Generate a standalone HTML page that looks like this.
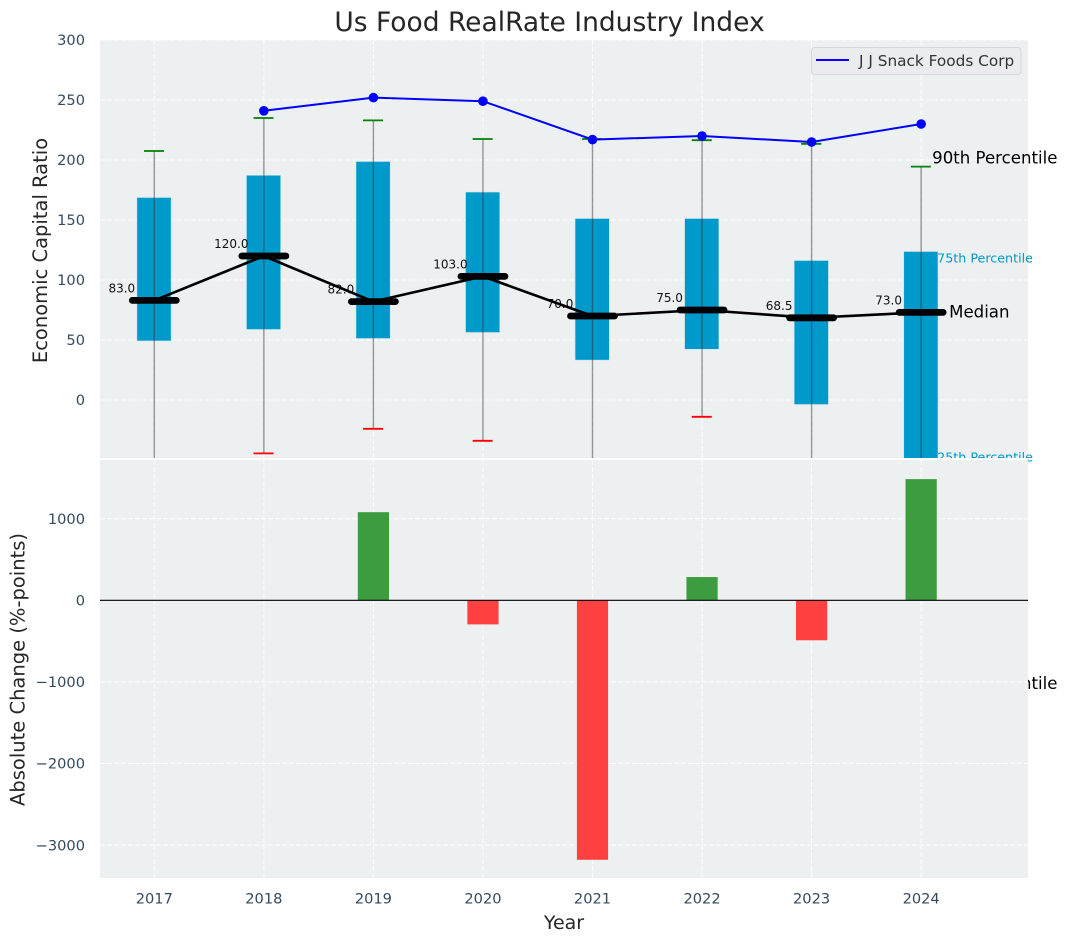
<!DOCTYPE html>
<html>
<head>
<meta charset="utf-8">
<title>Us Food RealRate Industry Index</title>
<style>
html,body{margin:0;padding:0;background:#fff;}
svg{display:block;font-family:"DejaVu Sans","Liberation Sans",sans-serif;}
</style>
</head>
<body>
<svg id="chart" xmlns="http://www.w3.org/2000/svg" width="1067" height="942" viewBox="0 0 1067 942">
<defs>
<clipPath id="clip-top"><rect x="100" y="40" width="928" height="418"/></clipPath>
<clipPath id="clip-bottom"><rect x="100" y="460" width="928" height="418"/></clipPath>
</defs>
</svg>
<script>
const years = [2017, 2018, 2019, 2020, 2021, 2022, 2023, 2024];
const whiskerHigh = [207.5, 235, 233, 217.5, 217.5, 216.5, 213.5, 194.5];
const whiskerLow = [-80, -44.5, -24, -34, -90, -14, -75, -240];
const q3Values = [168.5, 187, 198.5, 173, 151, 151, 116, 123.5];
const q1Values = [49.5, 59, 51.5, 56.5, 33.5, 42.5, -3.5, -55];
const medians = [83, 120, 82, 103, 70, 75, 68.5, 73];
const companyYears = [2018, 2019, 2020, 2021, 2022, 2023, 2024];
const companyValues = [241, 252, 249, 217, 220, 215, 230];
const changeValues = [0, 0, 1080, -295, -3180, 285, -490, 1485];
const topTicks = [0, 50, 100, 150, 200, 250, 300];
const bottomTicks = [-3000, -2000, -1000, 0, 1000];

const NS = 'http://www.w3.org/2000/svg';
const svg = document.getElementById('chart');
const xPos = v => 154.3 + (v - 2017) * 109.55;
const yTop = v => 400 - v * 1.2;
const yBottom = v => 600.3 - v * 0.0816;
const TXT = '#262626';
const TICK = '#34495e';
const BLUE = '#0099cc';

function el(tag, attrs, parent) {
  const e = document.createElementNS(NS, tag);
  for (const k in attrs) e.setAttribute(k, attrs[k]);
  (parent || svg).appendChild(e);
  return e;
}
function txt(s, attrs, parent) {
  const e = el('text', attrs, parent);
  e.textContent = s;
  return e;
}
function fmtTick(v) {
  return v < 0 ? '\u2212' + Math.abs(v) : String(v);
}
function grid(parent, ticks, yFn, y0, y1) {
  years.forEach(yr => {
    const l = el('line', {x1: xPos(yr), x2: xPos(yr), y1: y0, y2: y1, stroke: '#fff', 'stroke-width': 1, 'stroke-dasharray': '5 2', opacity: 0.9}, parent);
    
    
  });
  ticks.forEach(t => {
    const l = el('line', {x1: 100, x2: 1028, y1: yFn(t), y2: yFn(t), stroke: '#fff', 'stroke-width': 1, 'stroke-dasharray': '5 2', opacity: 0.9}, parent);
    
    
  });
}

/* title */
const title = txt('Us Food RealRate Industry Index', {x: 549.5, y: 31, 'text-anchor': 'middle', 'font-size': 26.5, fill: TXT});



/* top panel */
const topBg = el('rect', {x: 100, y: 40, width: 928, height: 418, fill: '#ecf0f1'});



const topGrid = el('g', {'clip-path': 'url(#clip-top)'});


grid(topGrid, topTicks, yTop, 40, 458);

/* annotations drawn before the lower panel so it covers them, as in the source */
const last = years.length - 1;
const lastX = xPos(years[last]);
const p90 = txt('90th Percentile', {x: lastX + 11, y: yTop(whiskerHigh[last]) - 3, 'font-size': 16.6, fill: '#000'});


const p75 = txt('75th Percentile', {x: lastX + 16, y: yTop(q3Values[last]) + 10.5, 'font-size': 12.7, fill: BLUE});


const pMed = txt('Median', {x: lastX + 28, y: yTop(medians[last]) + 5, 'font-size': 16.6, fill: '#000'});


const p25 = txt('25th Percentile', {x: lastX + 16, y: yTop(q1Values[last]) - 4.5, 'font-size': 12.7, fill: BLUE});


const p10 = txt('10th Percentile', {x: lastX + 11, y: yTop(whiskerLow[last]) + 1, 'font-size': 16.6, fill: '#000'});



const marks = el('g', {'clip-path': 'url(#clip-top)'});



years.forEach((yr, i) => {
  const x = xPos(yr);
  const box = el('rect', {x: x - 17.1, y: yTop(q3Values[i]), width: 33.6, height: yTop(q1Values[i]) - yTop(q3Values[i]), fill: BLUE, stroke: BLUE, 'stroke-opacity': 0.2, 'stroke-width': 1}, marks);
  
  
});
years.forEach((yr, i) => {
  const x = xPos(yr);
  const w = el('line', {x1: x, x2: x, y1: yTop(whiskerHigh[i]), y2: yTop(whiskerLow[i]), stroke: '#333', 'stroke-opacity': 0.5, 'stroke-width': 1.4}, marks);
  
  
  const hi = el('line', {x1: x - 10.3, x2: x + 9.7, y1: yTop(whiskerHigh[i]), y2: yTop(whiskerHigh[i]), stroke: 'green', 'stroke-width': 1.8}, marks);
  
  
  const lo = el('line', {x1: x - 10.3, x2: x + 9.7, y1: yTop(whiskerLow[i]), y2: yTop(whiskerLow[i]), stroke: 'red', 'stroke-width': 1.8}, marks);
  
  
  const lab = txt(medians[i].toFixed(1), {x: x - 32.5, y: yTop(medians[i]) - 8, 'text-anchor': 'middle', 'font-size': 12, fill: '#111'}, marks);
  
  
});

const medLine = el('polyline', {points: years.map((yr, i) => xPos(yr) + ',' + yTop(medians[i])).join(' '), fill: 'none', stroke: '#000', 'stroke-width': 2.6}, marks);


years.forEach((yr, i) => {
  const x = xPos(yr);
  const m = el('line', {x1: x - 22, x2: x + 22, y1: yTop(medians[i]), y2: yTop(medians[i]), stroke: '#000', 'stroke-width': 6.8, 'stroke-linecap': 'round'}, marks);
  
  
});

const compLine = el('polyline', {points: companyYears.map((yr, i) => xPos(yr) + ',' + yTop(companyValues[i])).join(' '), fill: 'none', stroke: '#0000ff', 'stroke-width': 2}, marks);


companyYears.forEach((yr, i) => {
  const c = el('circle', {cx: xPos(yr), cy: yTop(companyValues[i]), r: 4.8, fill: '#0000ff'}, marks);
  
  
});

/* top y ticks */
topTicks.forEach(t => {
  const l = txt(fmtTick(t), {x: 85, y: yTop(t) + 5.2, 'text-anchor': 'end', 'font-size': 14.6, fill: TICK});
  
  
});
const yTitleTop = txt('Economic Capital Ratio', {transform: 'translate(47,250.5) rotate(-90)', 'text-anchor': 'middle', 'font-size': 19.5, fill: TXT});



/* legend */
const legend = el('g', {});


const legendBox = el('rect', {x: 811.5, y: 47.5, width: 209.5, height: 27, rx: 3, fill: '#eaecf0', stroke: '#d5d7da', 'stroke-width': 1}, legend);


const legendLine = el('line', {x1: 816, x2: 849, y1: 60, y2: 60, stroke: '#0000ff', 'stroke-width': 2}, legend);


const legendText = txt('J J Snack Foods Corp', {x: 859, y: 66, 'font-size': 15.3, fill: '#333'}, legend);



/* bottom panel */
const gapBg = el('rect', {x: 100, y: 458, width: 928, height: 2, fill: '#fff', opacity: 0.9});


const botBg = el('rect', {x: 100, y: 460, width: 928, height: 418, fill: '#ecf0f1'});



const botGrid = el('g', {'clip-path': 'url(#clip-bottom)'});


grid(botGrid, bottomTicks, yBottom, 460, 878);

const bars = el('g', {'clip-path': 'url(#clip-bottom)'});


years.forEach((yr, i) => {
  const v = changeValues[i];
  if (v === 0) return;
  const y0 = yBottom(0), y1 = yBottom(v);
  const b = el('rect', {x: xPos(yr) - 15.6, y: Math.min(y0, y1), width: 31.2, height: Math.abs(y1 - y0), fill: v > 0 ? '#3c9c3f' : '#ff4040'}, bars);
  
  
});
const zero = el('line', {x1: 100, x2: 1028, y1: yBottom(0), y2: yBottom(0), stroke: '#000', 'stroke-width': 1.1});



bottomTicks.forEach(t => {
  const l = txt(fmtTick(t), {x: 85, y: yBottom(t) + 5.2, 'text-anchor': 'end', 'font-size': 14.6, fill: TICK});
  
  
});
years.forEach(yr => {
  const l = txt(String(yr), {x: xPos(yr), y: 903.5, 'text-anchor': 'middle', 'font-size': 14.6, fill: TICK});
  
  
});
const xTitle = txt('Year', {x: 564, y: 929, 'text-anchor': 'middle', 'font-size': 19, fill: TXT});


const yTitleBot = txt('Absolute Change (%-points)', {transform: 'translate(24.5,669.5) rotate(-90)', 'text-anchor': 'middle', 'font-size': 19.5, fill: TXT});


</script>
</body>
</html>
